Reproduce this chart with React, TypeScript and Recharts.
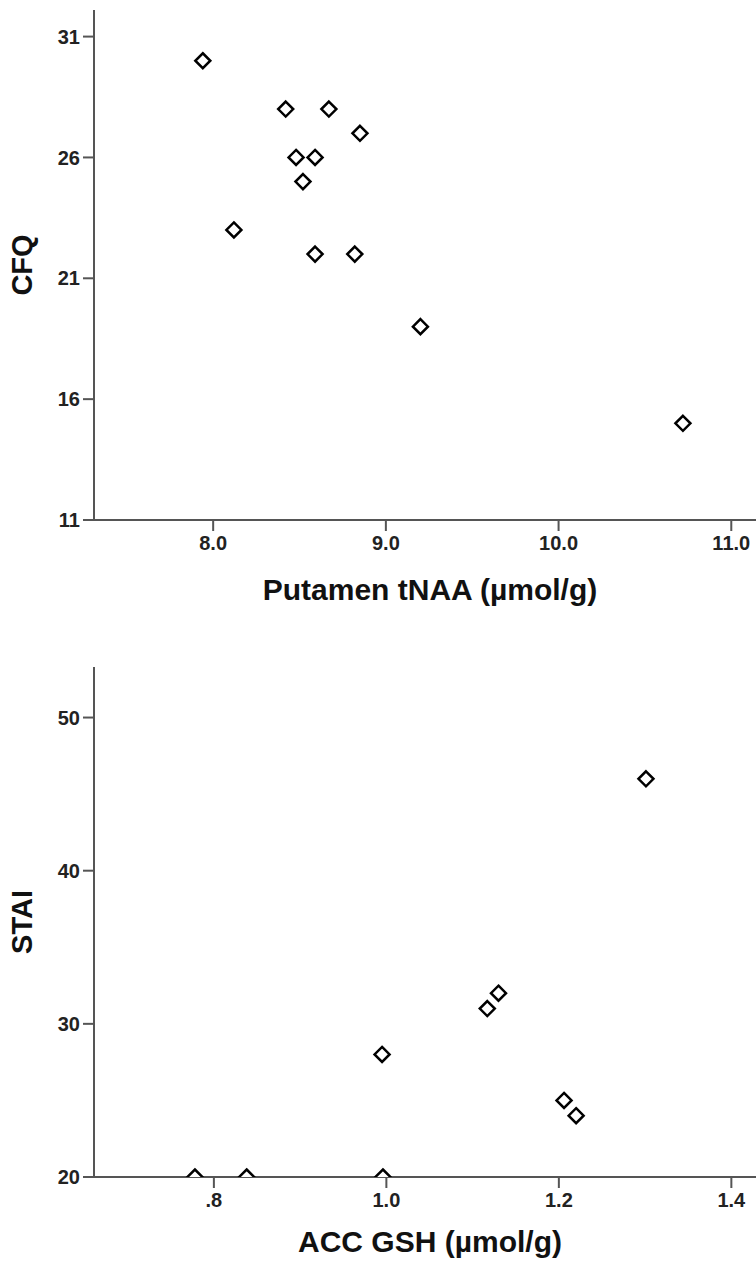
import React from "react";
import { ScatterChart, Scatter, XAxis, YAxis, Label } from "recharts";

// CFQ vs putamen tNAA
const tnaaValues = [7.94, 8.42, 8.67, 8.85, 8.48, 8.59, 8.52, 8.12, 8.59, 8.82, 9.2, 10.72];
const cfqValues = [30, 28, 28, 27, 26, 26, 25, 23, 22, 22, 19, 15];
const cfqTicks = [11, 16, 21, 26, 31];
const tnaaTicks = [8, 9, 10, 11];

// STAI vs ACC GSH
const gshValues = [0.778, 0.838, 0.996, 0.995, 1.117, 1.13, 1.206, 1.22, 1.301];
const staiValues = [20, 20, 20, 28, 31, 32, 25, 24, 46];
const staiTicks = [20, 30, 40, 50];
const gshTicks = [0.8, 1.0, 1.2, 1.4];

const FONT = '"Liberation Sans", Arial, sans-serif';
const AXIS = "#555";

const topData = tnaaValues.map((x, i) => ({ x, y: cfqValues[i] }));
const bottomData = gshValues.map((x, i) => ({ x, y: staiValues[i] }));

const Diamond = (props: any) => {
    const { cx, cy } = props;
    const r = 7.5;
    return (
        <path
            d={`M${cx},${cy - r}L${cx + r},${cy}L${cx},${cy + r}L${cx - r},${cy}Z`}
            fill="#fff"
            stroke="#000"
            strokeWidth={2.5}
        />
    );
};

const yTitle = (text: string) => (props: any) => {
    const vb = props.viewBox || {};
    const x = (vb.x || 0) + 22;
    const y = (vb.y || 0) + (vb.height || 0) / 2;
    return (
        <text
            x={x}
            y={y}
            transform={`rotate(-90, ${x}, ${y})`}
            textAnchor="middle"
            dominantBaseline="central"
            fontFamily={FONT}
            fontWeight="bold"
            fontSize={29}
            fill="#111"
        >
            {text}
        </text>
    );
};

const tickStyle = { fontFamily: FONT, fontSize: 20, fontWeight: "bold", fill: "#222" };

interface PanelProps {
    data: { x: number; y: number }[];
    xDomain: [number, number];
    yDomain: [number, number];
    xTicks: number[];
    yTicks: number[];
    xFormat: (v: number) => string;
    xTitle: string;
    yLabel: string;
    height: number;
    labelOffset: number;
}

function Panel({ data, xDomain, yDomain, xTicks, yTicks, xFormat, xTitle, yLabel, height, labelOffset }: PanelProps) {
    return (
        <ScatterChart width={800} height={height} margin={{ top: 10, right: 10, left: 0, bottom: 0 }}>
            <XAxis
                xAxisId="top"
                orientation="top"
                type="number"
                domain={[0, 1]}
                height={0}
                tick={false}
                tickLine={false}
                axisLine={{ stroke: AXIS, strokeWidth: 2 }}
            />
            <XAxis
                dataKey="x"
                type="number"
                domain={xDomain}
                ticks={xTicks}
                tickFormatter={xFormat}
                allowDataOverflow
                height={height - 520}
                tickSize={11}
                tickMargin={5}
                tick={tickStyle}
                tickLine={{ stroke: AXIS, strokeWidth: 2 }}
                axisLine={{ stroke: AXIS, strokeWidth: 2 }}
                label={{
                    value: xTitle,
                    position: "insideBottom",
                    offset: labelOffset,
                    dx: -12,
                    style: { fontFamily: FONT, fontWeight: "bold", fontSize: 30, fill: "#111" },
                }}
            />
            <YAxis
                dataKey="y"
                type="number"
                domain={yDomain}
                ticks={yTicks}
                allowDataOverflow
                width={94}
                tickSize={11}
                tickMargin={3}
                tick={tickStyle}
                tickLine={{ stroke: AXIS, strokeWidth: 2 }}
                axisLine={{ stroke: AXIS, strokeWidth: 2 }}
            >
                <Label content={yTitle(yLabel)} />
            </YAxis>
            <Scatter data={data} shape={Diamond} isAnimationActive={false} />
        </ScatterChart>
    );
}

export default function App() {
    return (
        <div
            style={{
                position: "absolute",
                top: 0,
                left: 0,
                width: 756,
                height: 1268,
                overflow: "hidden",
                background: "#fff",
            }}
        >
            <div style={{ position: "absolute", top: 0, left: 0 }}>
                <Panel
                    data={topData}
                    xDomain={[7.31, 11.34]}
                    yDomain={[11, 32.1]}
                    xTicks={tnaaTicks}
                    yTicks={cfqTicks}
                    xFormat={(v) => v.toFixed(1)}
                    xTitle="Putamen tNAA (µmol/g)"
                    yLabel="CFQ"
                    height={620}
                    labelOffset={20}
                />
            </div>
            <div style={{ position: "absolute", top: 657, left: 0 }}>
                <Panel
                    data={bottomData}
                    xDomain={[0.661, 1.468]}
                    yDomain={[20, 53.3]}
                    xTicks={gshTicks}
                    yTicks={staiTicks}
                    xFormat={(v) => (v < 1 ? v.toFixed(1).replace(/^0/, "") : v.toFixed(1))}
                    xTitle="ACC GSH (µmol/g)"
                    yLabel="STAI"
                    height={611}
                    labelOffset={16}
                />
            </div>
        </div>
    );
}
